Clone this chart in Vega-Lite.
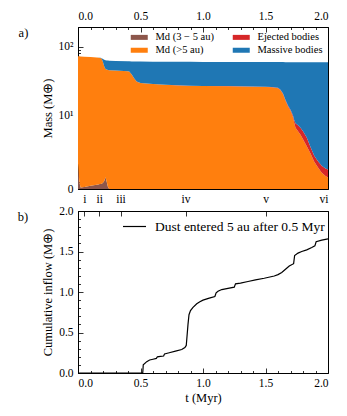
{
"$schema": "https://vega.github.io/schema/vega-lite/v6.json",
"padding": {"left": 17, "top": 9, "right": 0, "bottom": 0},
"bounds": "flush",
"spacing": 22,
"config": {
 "font": "Liberation Serif",
 "view": {"stroke": "black", "strokeWidth": 1},
 "axis": {"labelFont": "Liberation Serif", "titleFont": "Liberation Serif", "domainColor": "black", "tickColor": "black", "labelColor": "black", "titleColor": "black", "labelFontSize": 11.5, "titleFontSize": 12.5, "titleFontWeight": "normal", "grid": false, "tickWidth": 0.8, "domainWidth": 1},
 "legend": {"labelColor": "black", "labelFont": "Liberation Serif"},
 "title": {"font": "Liberation Serif", "fontWeight": "normal", "fontSize": 12.5, "color": "black"}
},
"resolve": {"scale": {"color": "independent", "stroke": "independent"}, "legend": {"color": "independent", "stroke": "independent"}},
"vconcat": [
{
 "width": 250, "height": 162,
 "title": {"text": "a)", "orient": "left", "anchor": "end", "frame": "group", "angle": 0, "align": "right", "baseline": "top", "offset": 3},
 "data": {"values": [
{"t":0,"s":"Md (3 − 5 au)","k":1,"v":1.3},{"t":0,"s":"Md (>5 au)","k":2,"v":71.7},{"t":0,"s":"Ejected bodies","k":3,"v":0},{"t":0,"s":"Massive bodies","k":4,"v":0},
{"t":0.01,"s":"Md (3 − 5 au)","k":1,"v":0.3},{"t":0.01,"s":"Md (>5 au)","k":2,"v":72.5},{"t":0.01,"s":"Ejected bodies","k":3,"v":0},{"t":0.01,"s":"Massive bodies","k":4,"v":0},
{"t":0.02,"s":"Md (3 − 5 au)","k":1,"v":0.05},{"t":0.02,"s":"Md (>5 au)","k":2,"v":72.55},{"t":0.02,"s":"Ejected bodies","k":3,"v":0},{"t":0.02,"s":"Massive bodies","k":4,"v":0},
{"t":0.05,"s":"Md (3 − 5 au)","k":1,"v":0.07},{"t":0.05,"s":"Md (>5 au)","k":2,"v":71.93},{"t":0.05,"s":"Ejected bodies","k":3,"v":0},{"t":0.05,"s":"Massive bodies","k":4,"v":0},
{"t":0.1,"s":"Md (3 − 5 au)","k":1,"v":0.11},{"t":0.1,"s":"Md (>5 au)","k":2,"v":70.89},{"t":0.1,"s":"Ejected bodies","k":3,"v":0},{"t":0.1,"s":"Massive bodies","k":4,"v":0},
{"t":0.15,"s":"Md (3 − 5 au)","k":1,"v":0.15},{"t":0.15,"s":"Md (>5 au)","k":2,"v":69.85},{"t":0.15,"s":"Ejected bodies","k":3,"v":0},{"t":0.15,"s":"Massive bodies","k":4,"v":0},
{"t":0.18,"s":"Md (3 − 5 au)","k":1,"v":0.18},{"t":0.18,"s":"Md (>5 au)","k":2,"v":68.82},{"t":0.18,"s":"Ejected bodies","k":3,"v":0},{"t":0.18,"s":"Massive bodies","k":4,"v":0.3},
{"t":0.19,"s":"Md (3 − 5 au)","k":1,"v":0.19},{"t":0.19,"s":"Md (>5 au)","k":2,"v":66.81},{"t":0.19,"s":"Ejected bodies","k":3,"v":0},{"t":0.19,"s":"Massive bodies","k":4,"v":1.5},
{"t":0.2,"s":"Md (3 − 5 au)","k":1,"v":0.22},{"t":0.2,"s":"Md (>5 au)","k":2,"v":59.78},{"t":0.2,"s":"Ejected bodies","k":3,"v":0},{"t":0.2,"s":"Massive bodies","k":4,"v":6.5},
{"t":0.21,"s":"Md (3 − 5 au)","k":1,"v":0.3},{"t":0.21,"s":"Md (>5 au)","k":2,"v":51.7},{"t":0.21,"s":"Ejected bodies","k":3,"v":0},{"t":0.21,"s":"Massive bodies","k":4,"v":12.8},
{"t":0.22,"s":"Md (3 − 5 au)","k":1,"v":0.46},{"t":0.22,"s":"Md (>5 au)","k":2,"v":47.54},{"t":0.22,"s":"Ejected bodies","k":3,"v":0},{"t":0.22,"s":"Massive bodies","k":4,"v":16},
{"t":0.23,"s":"Md (3 − 5 au)","k":1,"v":0.25},{"t":0.23,"s":"Md (>5 au)","k":2,"v":46.75},{"t":0.23,"s":"Ejected bodies","k":3,"v":0},{"t":0.23,"s":"Massive bodies","k":4,"v":16.6},
{"t":0.24,"s":"Md (3 − 5 au)","k":1,"v":0.06},{"t":0.24,"s":"Md (>5 au)","k":2,"v":46.44},{"t":0.24,"s":"Ejected bodies","k":3,"v":0},{"t":0.24,"s":"Massive bodies","k":4,"v":16.8},
{"t":0.25,"s":"Md (3 − 5 au)","k":1,"v":0},{"t":0.25,"s":"Md (>5 au)","k":2,"v":46},{"t":0.25,"s":"Ejected bodies","k":3,"v":0},{"t":0.25,"s":"Massive bodies","k":4,"v":17},
{"t":0.3,"s":"Md (3 − 5 au)","k":1,"v":0},{"t":0.3,"s":"Md (>5 au)","k":2,"v":45.5},{"t":0.3,"s":"Ejected bodies","k":3,"v":0},{"t":0.3,"s":"Massive bodies","k":4,"v":16.7},
{"t":0.4,"s":"Md (3 − 5 au)","k":1,"v":0},{"t":0.4,"s":"Md (>5 au)","k":2,"v":44.5},{"t":0.4,"s":"Ejected bodies","k":3,"v":0},{"t":0.4,"s":"Massive bodies","k":4,"v":17.3},
{"t":0.41,"s":"Md (3 − 5 au)","k":1,"v":0},{"t":0.41,"s":"Md (>5 au)","k":2,"v":44},{"t":0.41,"s":"Ejected bodies","k":3,"v":0.02},{"t":0.41,"s":"Massive bodies","k":4,"v":17.7},
{"t":0.43,"s":"Md (3 − 5 au)","k":1,"v":0},{"t":0.43,"s":"Md (>5 au)","k":2,"v":40},{"t":0.43,"s":"Ejected bodies","k":3,"v":0.05},{"t":0.43,"s":"Massive bodies","k":4,"v":21.6},
{"t":0.45,"s":"Md (3 − 5 au)","k":1,"v":0},{"t":0.45,"s":"Md (>5 au)","k":2,"v":35},{"t":0.45,"s":"Ejected bodies","k":3,"v":0.1},{"t":0.45,"s":"Massive bodies","k":4,"v":26.4},
{"t":0.47,"s":"Md (3 − 5 au)","k":1,"v":0},{"t":0.47,"s":"Md (>5 au)","k":2,"v":31.5},{"t":0.47,"s":"Ejected bodies","k":3,"v":0.12},{"t":0.47,"s":"Massive bodies","k":4,"v":29.8},
{"t":0.5,"s":"Md (3 − 5 au)","k":1,"v":0},{"t":0.5,"s":"Md (>5 au)","k":2,"v":30},{"t":0.5,"s":"Ejected bodies","k":3,"v":0.15},{"t":0.5,"s":"Massive bodies","k":4,"v":31.2},
{"t":0.6,"s":"Md (3 − 5 au)","k":1,"v":0},{"t":0.6,"s":"Md (>5 au)","k":2,"v":29},{"t":0.6,"s":"Ejected bodies","k":3,"v":0.15},{"t":0.6,"s":"Massive bodies","k":4,"v":31.9},
{"t":0.7,"s":"Md (3 − 5 au)","k":1,"v":0},{"t":0.7,"s":"Md (>5 au)","k":2,"v":28.3},{"t":0.7,"s":"Ejected bodies","k":3,"v":0.15},{"t":0.7,"s":"Massive bodies","k":4,"v":32.5},
{"t":0.8,"s":"Md (3 − 5 au)","k":1,"v":0},{"t":0.8,"s":"Md (>5 au)","k":2,"v":27.7},{"t":0.8,"s":"Ejected bodies","k":3,"v":0.17},{"t":0.8,"s":"Massive bodies","k":4,"v":32.9},
{"t":0.9,"s":"Md (3 − 5 au)","k":1,"v":0},{"t":0.9,"s":"Md (>5 au)","k":2,"v":27.3},{"t":0.9,"s":"Ejected bodies","k":3,"v":0.18},{"t":0.9,"s":"Massive bodies","k":4,"v":33.2},
{"t":1.0,"s":"Md (3 − 5 au)","k":1,"v":0},{"t":1.0,"s":"Md (>5 au)","k":2,"v":27.1},{"t":1.0,"s":"Ejected bodies","k":3,"v":0.2},{"t":1.0,"s":"Massive bodies","k":4,"v":33.3},
{"t":1.2,"s":"Md (3 − 5 au)","k":1,"v":0},{"t":1.2,"s":"Md (>5 au)","k":2,"v":26.9},{"t":1.2,"s":"Ejected bodies","k":3,"v":0.2},{"t":1.2,"s":"Massive bodies","k":4,"v":33.4},
{"t":1.4,"s":"Md (3 − 5 au)","k":1,"v":0},{"t":1.4,"s":"Md (>5 au)","k":2,"v":26.6},{"t":1.4,"s":"Ejected bodies","k":3,"v":0.22},{"t":1.4,"s":"Massive bodies","k":4,"v":33.6},
{"t":1.5,"s":"Md (3 − 5 au)","k":1,"v":0},{"t":1.5,"s":"Md (>5 au)","k":2,"v":26.3},{"t":1.5,"s":"Ejected bodies","k":3,"v":0.25},{"t":1.5,"s":"Massive bodies","k":4,"v":33.8},
{"t":1.55,"s":"Md (3 − 5 au)","k":1,"v":0},{"t":1.55,"s":"Md (>5 au)","k":2,"v":26},{"t":1.55,"s":"Ejected bodies","k":3,"v":0.3},{"t":1.55,"s":"Massive bodies","k":4,"v":34},
{"t":1.6,"s":"Md (3 − 5 au)","k":1,"v":0},{"t":1.6,"s":"Md (>5 au)","k":2,"v":25.3},{"t":1.6,"s":"Ejected bodies","k":3,"v":0.35},{"t":1.6,"s":"Massive bodies","k":4,"v":34.6},
{"t":1.62,"s":"Md (3 − 5 au)","k":1,"v":0},{"t":1.62,"s":"Md (>5 au)","k":2,"v":23.5},{"t":1.62,"s":"Ejected bodies","k":3,"v":0.38},{"t":1.62,"s":"Massive bodies","k":4,"v":36.3},
{"t":1.64,"s":"Md (3 − 5 au)","k":1,"v":0},{"t":1.64,"s":"Md (>5 au)","k":2,"v":20.7},{"t":1.64,"s":"Ejected bodies","k":3,"v":0.4},{"t":1.64,"s":"Massive bodies","k":4,"v":39.1},
{"t":1.66,"s":"Md (3 − 5 au)","k":1,"v":0},{"t":1.66,"s":"Md (>5 au)","k":2,"v":16.5},{"t":1.66,"s":"Ejected bodies","k":3,"v":0.42},{"t":1.66,"s":"Massive bodies","k":4,"v":43.2},
{"t":1.68,"s":"Md (3 − 5 au)","k":1,"v":0},{"t":1.68,"s":"Md (>5 au)","k":2,"v":13.5},{"t":1.68,"s":"Ejected bodies","k":3,"v":0.45},{"t":1.68,"s":"Massive bodies","k":4,"v":46.2},
{"t":1.7,"s":"Md (3 − 5 au)","k":1,"v":0},{"t":1.7,"s":"Md (>5 au)","k":2,"v":11.6},{"t":1.7,"s":"Ejected bodies","k":3,"v":0.5},{"t":1.7,"s":"Massive bodies","k":4,"v":48},
{"t":1.72,"s":"Md (3 − 5 au)","k":1,"v":0},{"t":1.72,"s":"Md (>5 au)","k":2,"v":9.2},{"t":1.72,"s":"Ejected bodies","k":3,"v":0.6},{"t":1.72,"s":"Massive bodies","k":4,"v":50.2},
{"t":1.73,"s":"Md (3 − 5 au)","k":1,"v":0},{"t":1.73,"s":"Md (>5 au)","k":2,"v":7.5},{"t":1.73,"s":"Ejected bodies","k":3,"v":0.8},{"t":1.73,"s":"Massive bodies","k":4,"v":51.7},
{"t":1.74,"s":"Md (3 − 5 au)","k":1,"v":0},{"t":1.74,"s":"Md (>5 au)","k":2,"v":6.3},{"t":1.74,"s":"Ejected bodies","k":3,"v":1.1},{"t":1.74,"s":"Massive bodies","k":4,"v":52.6},
{"t":1.76,"s":"Md (3 − 5 au)","k":1,"v":0},{"t":1.76,"s":"Md (>5 au)","k":2,"v":5.5},{"t":1.76,"s":"Ejected bodies","k":3,"v":1.4},{"t":1.76,"s":"Massive bodies","k":4,"v":53.1},
{"t":1.78,"s":"Md (3 − 5 au)","k":1,"v":0},{"t":1.78,"s":"Md (>5 au)","k":2,"v":4.8},{"t":1.78,"s":"Ejected bodies","k":3,"v":1.5},{"t":1.78,"s":"Massive bodies","k":4,"v":53.7},
{"t":1.8,"s":"Md (3 − 5 au)","k":1,"v":0},{"t":1.8,"s":"Md (>5 au)","k":2,"v":4},{"t":1.8,"s":"Ejected bodies","k":3,"v":1.5},{"t":1.8,"s":"Massive bodies","k":4,"v":54.5},
{"t":1.83,"s":"Md (3 − 5 au)","k":1,"v":0},{"t":1.83,"s":"Md (>5 au)","k":2,"v":3},{"t":1.83,"s":"Ejected bodies","k":3,"v":1.3},{"t":1.83,"s":"Massive bodies","k":4,"v":55.7},
{"t":1.86,"s":"Md (3 − 5 au)","k":1,"v":0},{"t":1.86,"s":"Md (>5 au)","k":2,"v":2.15},{"t":1.86,"s":"Ejected bodies","k":3,"v":0.75},{"t":1.86,"s":"Massive bodies","k":4,"v":57.1},
{"t":1.89,"s":"Md (3 − 5 au)","k":1,"v":0},{"t":1.89,"s":"Md (>5 au)","k":2,"v":1.42},{"t":1.89,"s":"Ejected bodies","k":3,"v":0.53},{"t":1.89,"s":"Massive bodies","k":4,"v":58.05},
{"t":1.92,"s":"Md (3 − 5 au)","k":1,"v":0},{"t":1.92,"s":"Md (>5 au)","k":2,"v":1},{"t":1.92,"s":"Ejected bodies","k":3,"v":0.45},{"t":1.92,"s":"Massive bodies","k":4,"v":58.55},
{"t":1.95,"s":"Md (3 − 5 au)","k":1,"v":0},{"t":1.95,"s":"Md (>5 au)","k":2,"v":0.7},{"t":1.95,"s":"Ejected bodies","k":3,"v":0.42},{"t":1.95,"s":"Massive bodies","k":4,"v":58.9},
{"t":1.98,"s":"Md (3 − 5 au)","k":1,"v":0},{"t":1.98,"s":"Md (>5 au)","k":2,"v":0.52},{"t":1.98,"s":"Ejected bodies","k":3,"v":0.43},{"t":1.98,"s":"Massive bodies","k":4,"v":58.95},
{"t":2.0,"s":"Md (3 − 5 au)","k":1,"v":0},{"t":2.0,"s":"Md (>5 au)","k":2,"v":0.45},{"t":2.0,"s":"Ejected bodies","k":3,"v":0.43},{"t":2.0,"s":"Massive bodies","k":4,"v":58.9}
 ]},
 "layer": [
  {
   "transform": [{"stack": "v", "groupby": ["t"], "sort": [{"field": "k", "order": "ascending"}], "as": ["y0", "y1"]}],
   "mark": {"type": "area", "interpolate": "linear"},
   "encoding": {
    "x": {"field": "t", "type": "quantitative", "scale": {"domain": [0, 2], "nice": false, "zero": false},
          "axis": {"orient": "top", "values": [0, 0.5, 1, 1.5, 2], "format": ".1f", "title": null, "tickSize": -5, "labelPadding": 11}},
    "y": {"field": "y1", "type": "quantitative", "scale": {"type": "symlog", "constant": 1, "domain": [0, 190], "nice": false},
          "axis": {"orient": "left", "values": [0, 10, 100], "labelExpr": "datum.value == 0 ? '0' : datum.value == 10 ? '10¹' : '10²'", "title": "Mass (M⊕)", "tickSize": -5, "labelPadding": 10, "titlePadding": 4}},
    "y2": {"field": "y0"},
    "color": {"field": "s", "type": "nominal",
      "scale": {"domain": ["Md (3 − 5 au)", "Md (>5 au)", "Ejected bodies", "Massive bodies"], "range": ["#8c564b", "#ff7f0e", "#d62728", "#1f77b4"]},
      "legend": {"orient": "top-right", "columns": 2, "title": null, "offset": 5, "symbolType": "M-1.7,-0.5H1.7V0.5H-1.7Z", "symbolSize": 100, "symbolStrokeWidth": 0, "symbolOpacity": 1, "labelFontSize": 10.5, "labelOffset": 11, "columnPadding": 18, "rowPadding": 2, "labelLimit": 200}}
   }
  },
  {
   "mark": {"type": "point", "opacity": 0},
   "encoding": {
    "x": {"field": "t", "type": "quantitative", "scale": {"domain": [0, 2], "nice": false, "zero": false},
          "axis": {"orient": "top", "values": [0.1,0.2,0.3,0.4,0.6,0.7,0.8,0.9,1.1,1.2,1.3,1.4,1.6,1.7,1.8,1.9], "labels": false, "title": null, "tickSize": -2.5, "domain": false}},
    "y": {"field": "v", "type": "quantitative", "scale": {"type": "symlog", "constant": 1, "domain": [0, 190], "nice": false},
          "axis": {"orient": "left", "values": [0.27,0.62,1.05,1.61,2.31,3.21,4.35,5.81,7.65,20,30,40,50,60,70,80,90], "labels": false, "title": null, "tickSize": -2.5, "domain": false}}
   }
  },
  {
   "mark": {"type": "point", "opacity": 0},
   "encoding": {
    "x": {"field": "t", "type": "quantitative", "scale": {"domain": [0, 2], "nice": false, "zero": false},
          "axis": {"orient": "bottom", "values": [0.05, 0.17, 0.34, 0.86, 1.5, 2], "labelExpr": "['i','ii','iii','iv','v','vi'][indexof([0.05,0.17,0.34,0.86,1.5,2], datum.value)]", "title": null, "tickSize": -5, "labelPadding": 9}},
    "y": {"field": "v", "type": "quantitative", "scale": {"type": "symlog", "constant": 1, "domain": [0, 190], "nice": false}, "axis": null}
   }
  }
 ],
 "resolve": {"axis": {"x": "independent", "y": "independent"}}
},
{
 "width": 250, "height": 162,
 "title": {"text": "b)", "orient": "left", "anchor": "end", "frame": "group", "angle": 0, "align": "right", "baseline": "top", "offset": 3},
 "data": {"values": [
{"t":0,"v":0},{"t":0.518,"v":0},{"t":0.522,"v":0.1},{"t":0.55,"v":0.14},{"t":0.573,"v":0.16},{"t":0.6,"v":0.17},{"t":0.627,"v":0.18},{"t":0.635,"v":0.2},{"t":0.66,"v":0.205},{"t":0.685,"v":0.21},{"t":0.692,"v":0.235},{"t":0.73,"v":0.25},{"t":0.78,"v":0.27},{"t":0.83,"v":0.29},{"t":0.855,"v":0.315},{"t":0.866,"v":0.34},{"t":0.872,"v":0.45},{"t":0.88,"v":0.6},{"t":0.888,"v":0.72},{"t":0.9,"v":0.77},{"t":0.92,"v":0.81},{"t":0.95,"v":0.855},{"t":0.975,"v":0.88},{"t":1.0,"v":0.9},{"t":1.05,"v":0.925},{"t":1.095,"v":0.945},{"t":1.105,"v":0.99},{"t":1.12,"v":1.01},{"t":1.15,"v":1.03},{"t":1.2,"v":1.045},{"t":1.25,"v":1.06},{"t":1.26,"v":1.1},{"t":1.3,"v":1.11},{"t":1.36,"v":1.13},{"t":1.42,"v":1.15},{"t":1.49,"v":1.17},{"t":1.57,"v":1.198},{"t":1.6,"v":1.215},{"t":1.63,"v":1.24},{"t":1.66,"v":1.28},{"t":1.69,"v":1.32},{"t":1.725,"v":1.35},{"t":1.733,"v":1.45},{"t":1.76,"v":1.48},{"t":1.79,"v":1.5},{"t":1.83,"v":1.52},{"t":1.87,"v":1.55},{"t":1.895,"v":1.57},{"t":1.905,"v":1.62},{"t":1.95,"v":1.64},{"t":2.0,"v":1.655}
 ]},
 "layer": [
  {
   "mark": {"type": "line", "strokeWidth": 1.2, "interpolate": "linear"},
   "encoding": {
    "x": {"field": "t", "type": "quantitative", "scale": {"domain": [0, 2], "nice": false, "zero": false},
          "axis": {"orient": "bottom", "values": [0, 0.5, 1, 1.5, 2], "format": ".1f", "title": "t (Myr)", "tickSize": -5, "labelPadding": 9, "titlePadding": 3}},
    "y": {"field": "v", "type": "quantitative", "scale": {"domain": [0, 2], "nice": false},
          "axis": {"orient": "left", "values": [0, 0.5, 1, 1.5, 2], "format": ".1f", "title": "Cumulative inflow (M⊕)", "tickSize": -5, "labelPadding": 10, "titlePadding": 4}},
    "stroke": {"datum": "Dust entered 5 au after 0.5 Myr", "type": "nominal", "scale": {"range": ["black"]},
      "legend": {"orient": "top-right", "title": null, "offset": 3, "symbolType": "stroke", "symbolSize": 529, "symbolStrokeWidth": 1.2, "labelFontSize": 13.5, "labelOffset": 8, "labelLimit": 300}}
   }
  },
  {
   "mark": {"type": "point", "opacity": 0},
   "encoding": {
    "x": {"field": "t", "type": "quantitative", "scale": {"domain": [0, 2], "nice": false, "zero": false},
          "axis": {"orient": "bottom", "values": [0.1,0.2,0.3,0.4,0.6,0.7,0.8,0.9,1.1,1.2,1.3,1.4,1.6,1.7,1.8,1.9], "labels": false, "title": null, "tickSize": -2.5, "domain": false}},
    "y": {"field": "v", "type": "quantitative", "scale": {"domain": [0, 2], "nice": false},
          "axis": {"orient": "left", "values": [0.1,0.2,0.3,0.4,0.6,0.7,0.8,0.9,1.1,1.2,1.3,1.4,1.6,1.7,1.8,1.9], "labels": false, "title": null, "tickSize": -2.5, "domain": false}}
   }
  },
  {
   "mark": {"type": "point", "opacity": 0},
   "encoding": {
    "x": {"field": "t", "type": "quantitative", "scale": {"domain": [0, 2], "nice": false, "zero": false},
          "axis": {"orient": "top", "values": [0.05, 0.17, 0.34, 0.86, 1.5, 2], "labels": false, "title": null, "tickSize": -5}},
    "y": {"field": "v", "type": "quantitative", "scale": {"domain": [0, 2], "nice": false}, "axis": null}
   }
  }
 ],
 "resolve": {"axis": {"x": "independent", "y": "independent"}}
}
]
}
